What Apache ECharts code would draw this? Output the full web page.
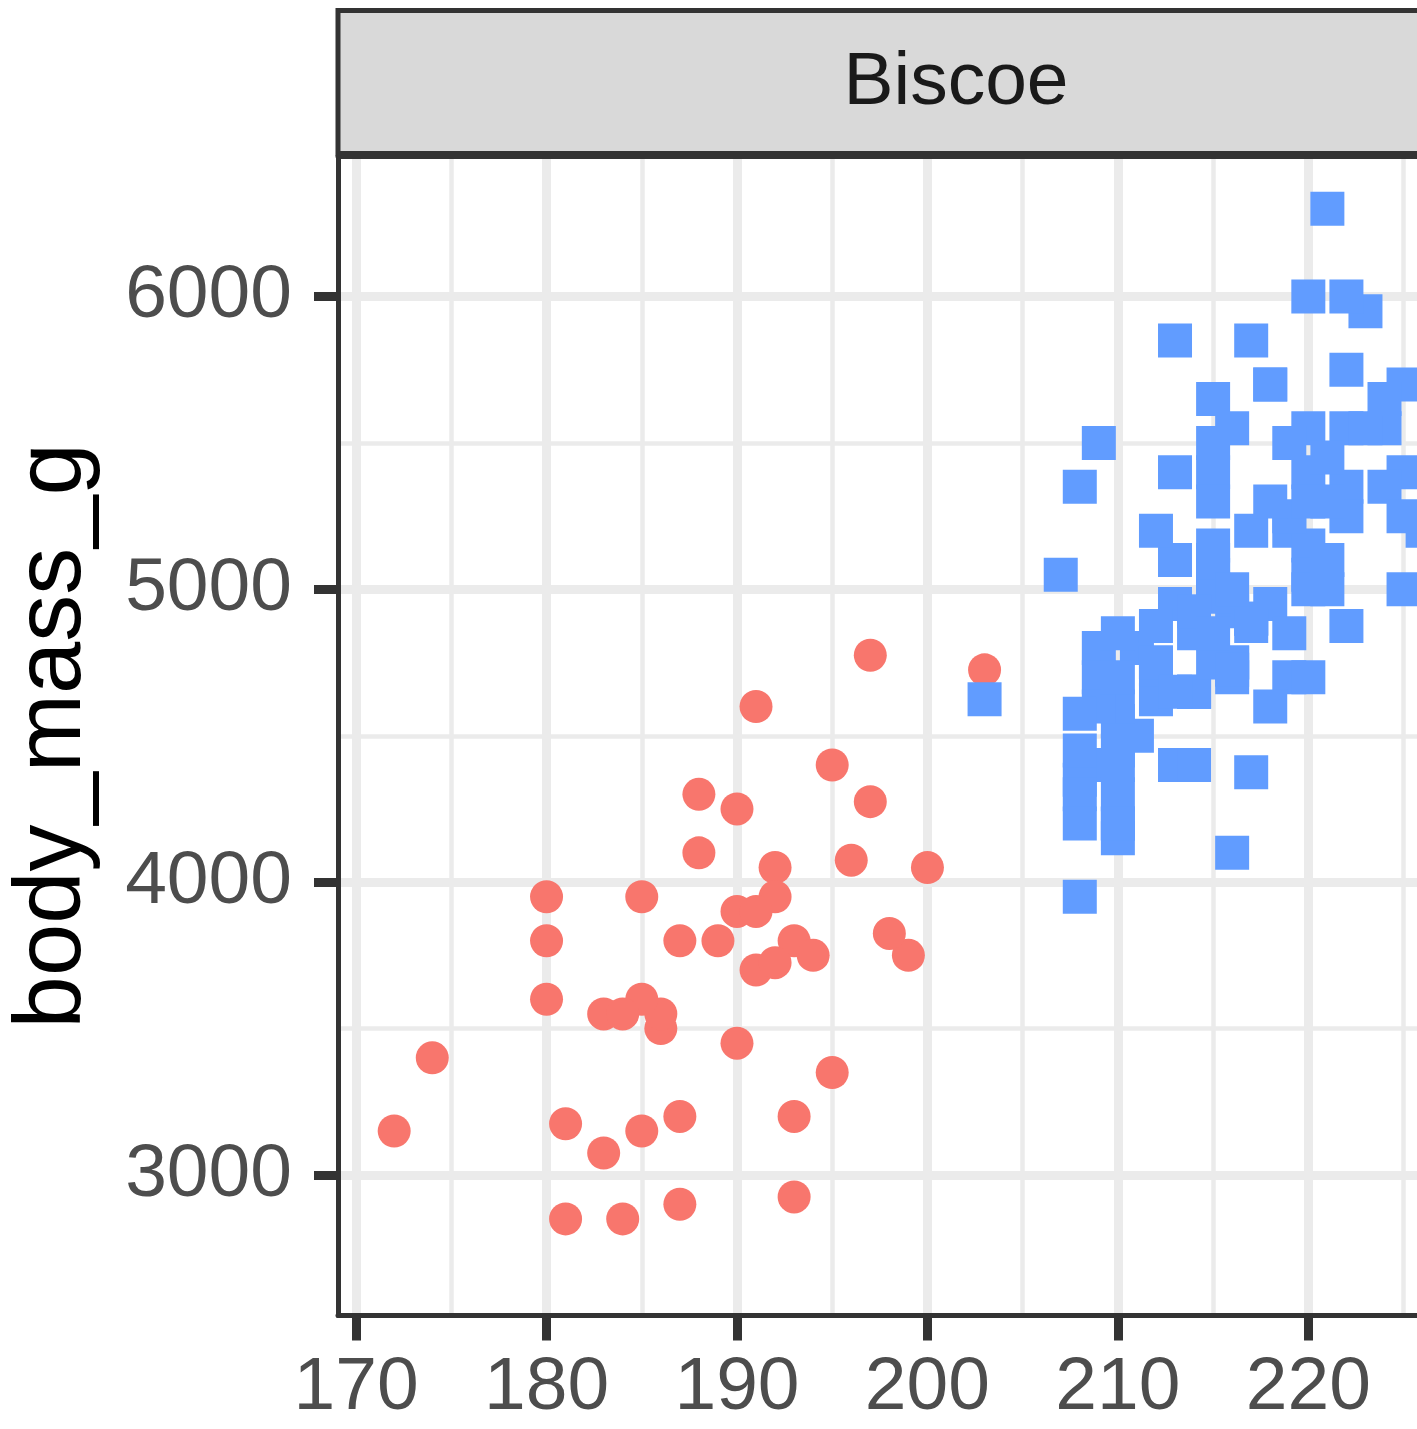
<!DOCTYPE html>
<html>
<head>
<meta charset="utf-8">
<script src="https://cdn.jsdelivr.net/npm/echarts@6/dist/echarts.min.js"></script>
<style>
  html, body { margin: 0; padding: 0; background: #ffffff; }
  #chart { width: 1417px; height: 1429px; }
</style>
</head>
<body>
<div id="chart"></div>
<script>
// Biscoe island penguins: flipper length (mm) against body mass (g)
const facetLabel = 'Biscoe';
const yTitle = 'body_mass_g';

// Adelie (circles)
const adelieFlipper = [174, 180, 189, 185, 180, 187, 183, 187, 172, 180,
  186, 188, 190, 200, 187, 191, 186, 193, 181, 194, 185, 195, 185, 192, 184, 192, 195, 188,
  192, 203, 183, 190, 193, 184, 199, 190, 181, 197, 198, 191, 193, 197, 191, 196];
const adelieMass = [3400, 3600, 3800, 3950, 3800, 3800, 3550, 3200, 3150, 3950,
  3500, 4300, 3450, 4050, 2900, 3700, 3550, 3800, 2850, 3750, 3150, 4400, 3600, 4050, 2850, 3950, 3350, 4100,
  3725, 4725, 3075, 4250, 2925, 3550, 3750, 3900, 3175, 4775, 3825, 4600, 3200, 4275, 3900, 4075];

// Gentoo (squares)
const gentooFlipper = [211, 210, 218, 215, 210, 211, 219, 209, 215, 214, 216, 214, 213, 210, 217, 210,
  221, 209, 222, 218, 215, 213, 215, 215, 215, 216, 215, 210, 220, 222, 209, 207, 220, 220, 213, 219,
  208, 208, 208, 225, 210, 216, 222, 217, 210, 225, 213, 215, 210, 220, 210, 225, 217, 220, 208, 220,
  208, 224, 208, 221, 214, 219, 214, 220, 223, 216, 221, 221, 217, 216, 209, 220, 215, 223, 212, 221,
  212, 224, 212, 218, 218, 212, 218, 212, 224, 214, 226, 216, 222, 203, 225, 219, 215, 216, 215, 210,
  219, 208, 209, 216, 213, 217, 217, 222, 214, 215, 222, 212, 213];
const gentooMass = [4500, 4450, 5700, 5400, 4550, 4800, 5200, 4400, 5150, 4650, 5550, 4650, 5850, 4200, 5850, 4150,
  6300, 4800, 5350, 5700, 5000, 4400, 5050, 5000, 5100, 4100, 5650, 4600, 5550, 5250, 4700, 5050, 5150, 5400, 4950, 5250,
  4350, 5350, 3950, 5700, 4300, 4750, 5550, 4900, 4200, 5400, 5100, 5300, 4850, 5300, 4400, 5000, 4900, 5050, 4300, 5000,
  4450, 5550, 4200, 5300, 4400, 4700, 4650, 4700, 5550, 4750, 5000, 5100, 5200, 4700, 4600, 6000, 4750, 5950, 4625, 5450,
  4725, 5350, 4750, 4600, 5300, 4875, 4950, 4750, 5650, 4850, 5200, 4925, 4875, 4625, 5250, 4850, 4975, 4725, 5500, 4700,
  5500, 4575, 5500, 5000, 4650, 4375, 4875, 6000, 4925, 4850, 5750, 5200, 5400];

// Axis limits and break positions
const xLimits = [169.05, 233.95];
const yLimits = [2520, 6480];
const xMajorTicks = [170, 180, 190, 200, 210, 220, 230];
const xMinorTicks = [175, 185, 195, 205, 215, 225];
const yMajorTicks = [3000, 4000, 5000, 6000];
const yMinorTicks = [3500, 4500, 5500];

const FONT = "'Liberation Sans', Arial, Helvetica, sans-serif";
const INK = '#333333';
const GRID_LINE = '#EBEBEB';

const pairs = (xs, ys) => xs.map((x, i) => [x, ys[i]]);
const plain = v => String(v);

const chart = echarts.init(document.getElementById('chart'), null, { renderer: 'canvas' });

chart.setOption({
  backgroundColor: '#ffffff',
  animation: false,
  grid: {
    left: 338, top: 156, width: 1236, height: 1159.5, show: false,
    containLabel: false, outerBoundsMode: 'none'
  },
  xAxis: [
    {
      type: 'value', gridIndex: 0, position: 'bottom',
      min: xLimits[0], max: xLimits[1],
      axisLine: { show: true, onZero: false, lineStyle: { color: INK, width: 5 } },
      axisTick: { show: true, length: 25, customValues: xMajorTicks, lineStyle: { color: INK, width: 9 } },
      axisLabel: { customValues: xMajorTicks, formatter: plain, fontSize: 75, color: '#4D4D4D', margin: 35, fontFamily: FONT },
      splitLine: { show: true, lineStyle: { color: GRID_LINE, width: 9 } }
    },
    {
      type: 'value', gridIndex: 0, position: 'top',
      min: xLimits[0], max: xLimits[1],
      axisLine: { show: true, onZero: false, lineStyle: { color: INK, width: 5 } },
      axisTick: { show: false, customValues: xMinorTicks },
      axisLabel: { show: false, customValues: xMinorTicks },
      splitLine: { show: true, lineStyle: { color: GRID_LINE, width: 4.5 } }
    }
  ],
  yAxis: [
    {
      type: 'value', gridIndex: 0, position: 'left',
      min: yLimits[0], max: yLimits[1],
      name: yTitle, nameLocation: 'middle', nameRotate: 90, nameGap: 237,
      nameTextStyle: { fontSize: 94, color: '#000000', fontFamily: FONT },
      axisLine: { show: true, onZero: false, lineStyle: { color: INK, width: 5 } },
      axisTick: { show: true, length: 24, customValues: yMajorTicks, lineStyle: { color: INK, width: 9 } },
      axisLabel: { customValues: yMajorTicks, formatter: plain, fontSize: 75, color: '#4D4D4D', margin: 46, fontFamily: FONT },
      splitLine: { show: true, lineStyle: { color: GRID_LINE, width: 9 } }
    },
    {
      type: 'value', gridIndex: 0, position: 'right',
      min: yLimits[0], max: yLimits[1],
      axisLine: { show: false },
      axisTick: { show: false, customValues: yMinorTicks },
      axisLabel: { show: false, customValues: yMinorTicks },
      splitLine: { show: true, lineStyle: { color: GRID_LINE, width: 4.5 } }
    }
  ],
  graphic: [
    {
      type: 'rect', z: 10,
      shape: { x: 338, y: 10.5, width: 1236, height: 143 },
      style: { fill: '#D9D9D9', stroke: INK, lineWidth: 5 }
    },
    {
      type: 'text', z: 11,
      x: 956, y: 83,
      style: {
        text: facetLabel, fill: '#1A1A1A', font: '75px ' + FONT,
        textAlign: 'center', textVerticalAlign: 'middle'
      }
    }
  ],
  series: [
    {
      name: 'Adelie', type: 'scatter', xAxisIndex: 0, yAxisIndex: 0,
      symbol: 'circle', symbolSize: 33,
      itemStyle: { color: '#F8766D', opacity: 1 },
      data: pairs(adelieFlipper, adelieMass)
    },
    {
      name: 'Gentoo', type: 'scatter', xAxisIndex: 0, yAxisIndex: 0,
      symbol: 'rect', symbolSize: 34,
      itemStyle: { color: '#619CFF', opacity: 1 },
      data: pairs(gentooFlipper, gentooMass)
    }
  ]
});
</script>
</body>
</html>
